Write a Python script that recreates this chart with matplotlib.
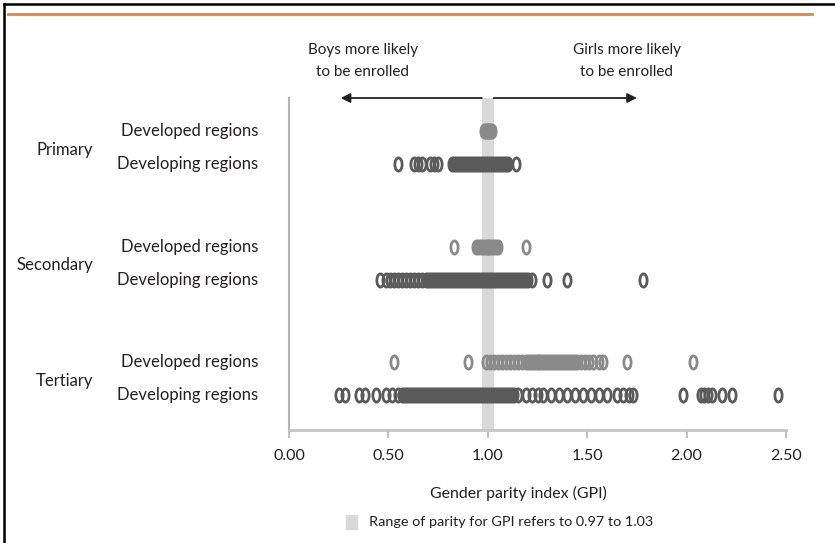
import matplotlib
matplotlib.use("Agg")
import matplotlib.pyplot as plt
from matplotlib.path import Path
from matplotlib.transforms import Affine2D
from matplotlib.lines import Line2D

plt.rcParams['font.family'] = ['Lato', 'DejaVu Sans']

# data (GPI values per country, approximate)
levels = ['Primary', 'Secondary', 'Tertiary']
row_labels = ['Developed regions', 'Developing regions']

primary_developed = [0.98, 0.99, 0.99, 1.00, 1.00, 1.00, 1.01, 1.01, 1.02]
primary_developing = [0.55, 0.63, 0.65, 0.67, 0.71, 0.73, 0.75, 0.82, 0.83, 0.84,
                      0.85, 0.86, 0.87, 0.88, 0.89, 0.90, 0.91, 0.92, 0.93, 0.94,
                      0.95, 0.96, 0.97, 0.98, 0.99, 1.00, 1.01, 1.02, 1.03, 1.04,
                      1.05, 1.06, 1.07, 1.08, 1.09, 1.10, 1.14]
secondary_developed = [0.83, 0.94, 0.95, 0.96, 0.97, 0.98, 0.99, 1.00, 1.00, 1.01,
                       1.02, 1.03, 1.04, 1.05, 1.19]
secondary_developing = [0.46, 0.49, 0.51, 0.53, 0.55, 0.57, 0.59, 0.61, 0.63, 0.65,
                        0.67, 0.69, 0.70, 0.71, 0.72, 0.73, 0.74, 0.75, 0.76, 0.77,
                        0.78, 0.79, 0.80, 0.81, 0.82, 0.83, 0.84, 0.85, 0.86, 0.87,
                        0.88, 0.89, 0.90, 0.91, 0.92, 0.93, 0.94, 0.95, 0.96, 0.97,
                        0.98, 0.99, 1.00, 1.01, 1.02, 1.03, 1.04, 1.05, 1.06, 1.07,
                        1.08, 1.09, 1.10, 1.11, 1.12, 1.13, 1.14, 1.15, 1.16, 1.17,
                        1.18, 1.19, 1.20, 1.22, 1.30, 1.40, 1.78]
tertiary_developed = [0.53, 0.90, 0.99, 1.01, 1.03, 1.05, 1.07, 1.09, 1.11, 1.13,
                      1.15, 1.17, 1.19, 1.20, 1.21, 1.22, 1.23, 1.24, 1.25, 1.26,
                      1.27, 1.28, 1.29, 1.30, 1.31, 1.32, 1.33, 1.34, 1.35, 1.36,
                      1.37, 1.38, 1.39, 1.40, 1.41, 1.42, 1.43, 1.44, 1.45, 1.47,
                      1.49, 1.51, 1.53, 1.56, 1.58, 1.70, 2.03]
tertiary_developing = [0.25, 0.28, 0.35, 0.38, 0.44, 0.49, 0.52, 0.55, 0.57, 0.58,
                       0.59, 0.60, 0.61, 0.62, 0.63, 0.64, 0.65, 0.66, 0.67, 0.68,
                       0.69, 0.70, 0.71, 0.72, 0.73, 0.74, 0.75, 0.76, 0.77, 0.78,
                       0.79, 0.80, 0.81, 0.82, 0.83, 0.84, 0.85, 0.86, 0.87, 0.88,
                       0.89, 0.90, 0.91, 0.92, 0.93, 0.94, 0.95, 0.96, 0.97, 0.98,
                       0.99, 1.00, 1.01, 1.02, 1.03, 1.04, 1.05, 1.06, 1.07, 1.08,
                       1.09, 1.10, 1.11, 1.12, 1.13, 1.15, 1.19, 1.22, 1.25, 1.28,
                       1.32, 1.36, 1.40, 1.44, 1.48, 1.52, 1.56, 1.60, 1.65, 1.68,
                       1.71, 1.73, 1.98, 2.07, 2.09, 2.11, 2.13, 2.18, 2.23, 2.46]

series = [primary_developed, primary_developing,
          secondary_developed, secondary_developing,
          tertiary_developed, tertiary_developing]
ticks = [0.0, 0.5, 1.0, 1.5, 2.0, 2.5]

# row positions: pairs of rows with a wider gap between education levels
row_y = []
for g in range(3):
    row_y += [g * 3.5, g * 3.5 + 1]

colors = ['#8a8a8a', '#5a5a5a']
text_col = '#231f20'
fs = 12

# tall narrow open circle, like the "0" marks of the original
oval = Path.unit_circle().transformed(Affine2D().scale(0.55, 1.0))

fig = plt.figure(figsize=(8.35, 5.43), dpi=100)
ax = fig.add_axes([289 / 835, 1 - 430 / 543, 497 / 835, 332 / 543])

ax.axvspan(0.97, 1.03, color='#d9d9d9', zorder=0, lw=0)

for i, vals in enumerate(series):
    ax.plot(vals, [row_y[i]] * len(vals), ls='none', marker=oval, ms=9.5,
            mfc='none', mec=colors[i % 2], mew=2.0, zorder=3)

ax.set_xlim(0, 2.5)
ax.set_ylim(row_y[-1] + 1.06, row_y[0] - 1.0)
ax.set_xticks(ticks)
ax.set_xticklabels(['%.2f' % t for t in ticks])
ax.set_yticks([])
ax.tick_params(axis='x', length=6, width=1.2, color='#b4b4b4', pad=8,
               labelsize=11.5, labelcolor=text_col)
for s in ['top', 'right']:
    ax.spines[s].set_visible(False)
ax.spines['left'].set_color('#b4b4b4')
ax.spines['left'].set_linewidth(1.5)
ax.spines['bottom'].set_color('#c4c4c4')
ax.spines['bottom'].set_linewidth(2)
ax.set_xlabel('Gender parity index (GPI)', fontsize=11.4, color=text_col)
ax.xaxis.set_label_coords((518 - 289) / 497, -0.168)

# row labels and level labels
for i, y in enumerate(row_y):
    ax.annotate(row_labels[i % 2], xy=(0, y), xycoords=('axes fraction', 'data'),
                xytext=(-31, 0), textcoords='offset pixels', ha='right',
                va='center', fontsize=fs, color=text_col)
for g, lev in enumerate(levels):
    ax.annotate(lev, xy=(0, (row_y[2 * g] + row_y[2 * g + 1]) / 2),
                xycoords=('axes fraction', 'data'), xytext=(-196, -2),
                textcoords='offset pixels', ha='right', va='center',
                fontsize=fs, color=text_col)

# direction arrows
top = row_y[0] - 1.0
for x0, x1 in [(0.97, 0.26), (1.03, 1.75)]:
    ax.annotate('', xy=(x1, top), xytext=(x0, top),
                arrowprops=dict(arrowstyle='-|>', color='#231f20', lw=1.3,
                                mutation_scale=14, shrinkA=0, shrinkB=0),
                annotation_clip=False)
fig.text(363 / 835, 1 - 61 / 543, 'Boys more likely\nto be enrolled', ha='center',
         va='center', fontsize=11, color=text_col, linespacing=1.7)
fig.text(627 / 835, 1 - 61 / 543, 'Girls more likely\nto be enrolled', ha='center',
         va='center', fontsize=11, color=text_col, linespacing=1.7)

# legend for the parity band
fig.patches.append(plt.Rectangle((346 / 835, 1 - 529 / 543), 11 / 835, 14 / 543,
                                 transform=fig.transFigure, color='#d9d9d9'))
fig.text(369 / 835, 1 - 522 / 543, 'Range of parity for GPI refers to 0.97 to 1.03',
         ha='left', va='center', fontsize=10.4, color=text_col)

# frame lines of the original figure
fig.add_artist(Line2D([4 / 835, 4 / 835], [0, 1 - 4 / 543], color='black', lw=1.8,
                      transform=fig.transFigure))
fig.add_artist(Line2D([4 / 835, 1], [1 - 4 / 543, 1 - 4 / 543], color='black', lw=1.8,
                      transform=fig.transFigure))
fig.add_artist(Line2D([8 / 835, 812 / 835], [1 - 14 / 543, 1 - 14 / 543],
                      color='#ee8035', lw=2.0, transform=fig.transFigure))

fig.savefig('out.png', dpi=100)
